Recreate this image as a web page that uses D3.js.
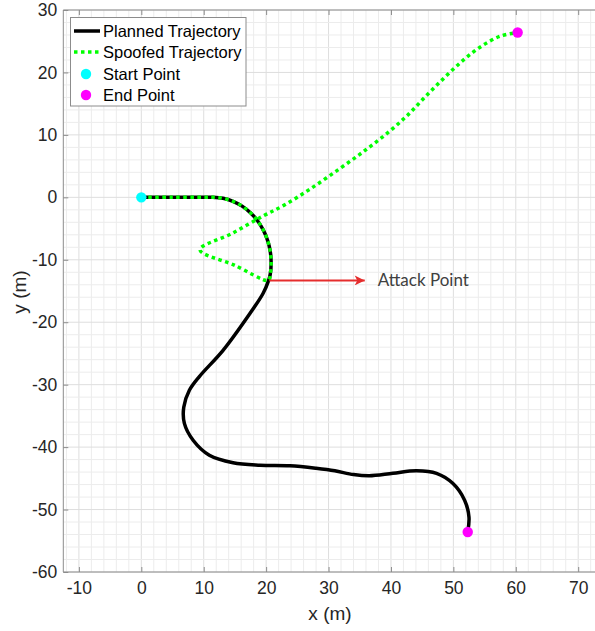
<!DOCTYPE html>
<html>
<head>
<meta charset="utf-8">
<script src="https://cdn.jsdelivr.net/npm/d3@7/dist/d3.min.js"></script>
<style>
  body{margin:0;background:#fff;}
  svg{display:block;font-family:"Liberation Sans",Arial,sans-serif;}
</style>
</head>
<body>
<div id="chart"></div>
<script>
// planned trajectory (black)
var plannedX=[0,5,10,11.5,13.1,14.68,16.15,17.48,18.62,19.55,20.24,20.66,20.8,20.66,20.4,19.5,17.4,13.1,9.3,7.7,6.8,6.9,8.3,10.9,14.7,19,23.8,28,31,34,36.5,40.3,44.1,47.3,49.9,51.8,52.5,52.3];
var plannedY=[0,0,0,0,-0.16,-0.63,-1.41,-2.46,-3.75,-5.25,-6.91,-8.67,-10.5,-12.3,-13.3,-15.4,-18.6,-24.5,-28.7,-30.9,-33.6,-36.2,-38.9,-41.3,-42.5,-42.9,-43,-43.4,-43.8,-44.4,-44.6,-44.2,-43.8,-44.2,-45.8,-48.5,-51.2,-53.6];
// spoofed trajectory (green dotted)
var spoofX=[0,5,10,11.5,13.1,14.68,16.15,17.48,18.62,19.55,20.24,20.66,20.8,20.66,20.4,14.9,9.4,14.5,19.5,23,27,31.8,36.1,39.8,42.7,45.5,48.5,51.5,54.5,57.5,60.3];
var spoofY=[0,0,0,0,-0.16,-0.63,-1.41,-2.46,-3.75,-5.25,-6.91,-8.67,-10.5,-12.3,-13.3,-10.85,-8.4,-5.8,-3.0,-1.2,1.3,4.6,7.7,10.6,13.2,16.1,19.1,21.9,24.2,25.8,26.4];
var startPt=[0,0];
var endPts=[[52.3,-53.6],[60.3,26.4]];
var attackX=[20.5,35.8];
var attackY=-13.3;
var xTicks=[-10,0,10,20,30,40,50,60,70];
var yTicks=[-60,-50,-40,-30,-20,-10,0,10,20,30];
var legendNames=["Planned Trajectory","Spoofed Trajectory","Start Point","End Point"];

var width=595,height=631;
var svg=d3.select("#chart").append("svg").attr("width",width).attr("height",height);

var x=d3.scaleLinear().domain([-12.5,77.5]).range([63.3,625]);
var y=d3.scaleLinear().domain([-60,30]).range([572,10]);

var x0=x(-12.5),x1=x(77.5),y0=y(-60),y1=y(30);

// minor grid every 2 m
var g=svg.append("g");
g.selectAll(".gx").data(d3.range(-12,78,2)).enter().append("line")
  .attr("x1",function(d){return x(d);}).attr("x2",function(d){return x(d);})
  .attr("y1",y1).attr("y2",y0)
  .attr("stroke",function(d){return d%10==0?"#dedede":"#ececec";}).attr("stroke-width",1);
g.selectAll(".gy").data(d3.range(-60,31,2)).enter().append("line")
  .attr("y1",function(d){return y(d);}).attr("y2",function(d){return y(d);})
  .attr("x1",x0).attr("x2",x1)
  .attr("stroke",function(d){return d%10==0?"#dedede":"#ececec";}).attr("stroke-width",1);

// axes box
var axisCol="#8c8c8c";
svg.append("line").attr("x1",x0).attr("x2",x1).attr("y1",y0).attr("y2",y0).attr("stroke",axisCol);
svg.append("line").attr("x1",x0).attr("x2",x1).attr("y1",y1).attr("y2",y1).attr("stroke",axisCol);
svg.append("line").attr("x1",x0).attr("x2",x0).attr("y1",y1).attr("y2",y0).attr("stroke",axisCol);

var fmt=function(d){return String(d);};   // plain hyphen like the original
var xAxis=d3.axisBottom(x).tickValues(xTicks).tickFormat(fmt).tickSizeInner(-5).tickSizeOuter(0).tickPadding(10);
var gxa=svg.append("g").attr("transform","translate(0,"+y0+")").call(xAxis);
gxa.select(".domain").remove();
gxa.selectAll("line").attr("stroke",axisCol);
gxa.selectAll("text").attr("fill","#262626").style("font-size","17.5px");

var xTop=d3.axisTop(x).tickValues(xTicks).tickSizeInner(-5).tickSizeOuter(0).tickFormat("");
var gxt=svg.append("g").attr("transform","translate(0,"+y1+")").call(xTop);
gxt.select(".domain").remove();
gxt.selectAll("line").attr("stroke",axisCol);

var yAxis=d3.axisLeft(y).tickValues(yTicks).tickFormat(fmt).tickSizeInner(-5).tickSizeOuter(0).tickPadding(6);
var gya=svg.append("g").attr("transform","translate("+x0+",0)").call(yAxis);
gya.select(".domain").remove();
gya.selectAll("line").attr("stroke",axisCol);
gya.selectAll("text").attr("fill","#262626").style("font-size","17.5px");

svg.append("text").attr("x",330).attr("y",620).attr("text-anchor","middle")
  .attr("fill","#262626").style("font-size","19px").text("x (m)");
svg.append("text").attr("transform","translate(26,292) rotate(-90)").attr("text-anchor","middle")
  .attr("fill","#262626").style("font-size","19px").text("y (m)");

// trajectories
var line=d3.line().x(function(d){return x(d[0]);}).y(function(d){return y(d[1]);}).curve(d3.curveCatmullRom.alpha(0.5));
var planned=plannedX.map(function(v,i){return [v,plannedY[i]];});
var spoof=spoofX.map(function(v,i){return [v,spoofY[i]];});

svg.append("path").datum(planned).attr("d",line).attr("fill","none")
  .attr("stroke","#000").attr("stroke-width",3.5);
svg.append("path").datum(spoof).attr("d",line).attr("fill","none")
  .attr("stroke","#00ff00").attr("stroke-width",3.5).attr("stroke-dasharray","3.5,3.5");

// attack arrow
var red="#e52d2d";
svg.append("defs").append("marker").attr("id","arr").attr("viewBox","0 0 10 10")
  .attr("refX",10).attr("refY",5).attr("markerWidth",12).attr("markerHeight",10)
  .attr("markerUnits","userSpaceOnUse").attr("orient","auto")
  .append("path").attr("d","M0,0 L10,5 L0,10 L2.5,5 Z").attr("fill",red);
svg.append("line").attr("x1",x(attackX[0])).attr("x2",x(attackX[1]))
  .attr("y1",y(attackY)).attr("y2",y(attackY)).attr("stroke",red).attr("stroke-width",2)
  .attr("marker-end","url(#arr)");
svg.append("text").attr("x",x(attackX[1])+13).attr("y",y(attackY)+6)
  .attr("fill","#404040").style("font-family","Lato, 'Open Sans', sans-serif").style("font-size","17px")
  .text("Attack Point");

// start / end markers
svg.append("circle").attr("cx",x(startPt[0])).attr("cy",y(startPt[1])).attr("r",5.2).attr("fill","#00ffff");
svg.selectAll(".endp").data(endPts).enter().append("circle")
  .attr("cx",function(d){return x(d[0]);}).attr("cy",function(d){return y(d[1]);})
  .attr("r",5.2).attr("fill","#ff00ff");

// legend
var lg=svg.append("g");
lg.append("rect").attr("x",70.5).attr("y",17.5).attr("width",175.5).attr("height",88.5)
  .attr("fill","#fff").attr("stroke","#8c8c8c").attr("stroke-width",1);
var rowY=[31,52,74,95];
lg.append("line").attr("x1",74).attr("x2",100).attr("y1",rowY[0]).attr("y2",rowY[0])
  .attr("stroke","#000").attr("stroke-width",3.5);
lg.append("line").attr("x1",74).attr("x2",100).attr("y1",rowY[1]).attr("y2",rowY[1])
  .attr("stroke","#00ff00").attr("stroke-width",3.5).attr("stroke-dasharray","3.5,3.5");
lg.append("circle").attr("cx",86).attr("cy",rowY[2]).attr("r",5.2).attr("fill","#00ffff");
lg.append("circle").attr("cx",86).attr("cy",rowY[3]).attr("r",5.2).attr("fill","#ff00ff");
lg.selectAll(".lt").data(legendNames).enter().append("text")
  .attr("x",103).attr("y",function(d,i){return rowY[i]+6;})
  .attr("fill","#000").style("font-size","16.5px").text(function(d){return d;});
</script>
</body>
</html>
